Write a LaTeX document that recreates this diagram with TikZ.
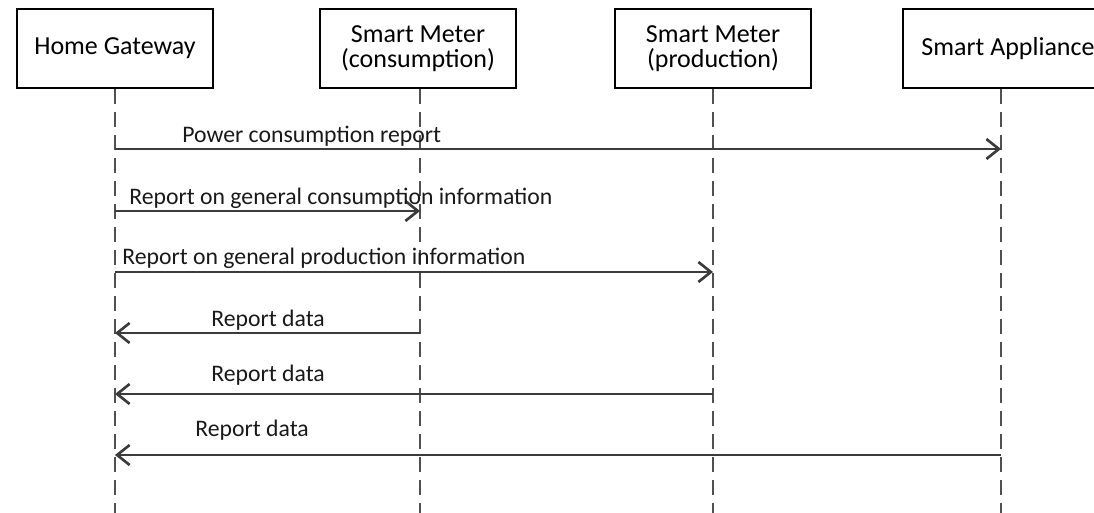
\documentclass[tikz,border=0pt]{standalone}
\usepackage{fontspec}
\setmainfont{Carlito}
\usetikzlibrary{arrows.meta,positioning,calc,shadows}
\definecolor{msggray}{RGB}{60,60,60}
\definecolor{lifegray}{RGB}{80,80,80}

\begin{document}
\begin{tikzpicture}[x=0.02cm, y=-0.02cm,
    actor/.style={draw, fill=white, line width=1.5pt, minimum width=3.92cm, minimum height=1.58cm, align=center, inner sep=0pt,
        font=\fontsize{14.8}{14}\selectfont, drop shadow={shadow xshift=0.6pt, shadow yshift=-0.6pt, opacity=0.3}},
    life/.style={draw=lifegray, line width=1.1pt, dash pattern=on 0.3cm off 0.16cm},
    msg/.style={draw=msggray, line width=1.5pt, -{Straight Barb[length=2.5mm, width=4mm]}},
    lbl/.style={anchor=base west, inner sep=0pt, text=black!90, font=\fontsize{13.5}{16}\selectfont}
]
\useasboundingbox (0,0) rectangle (1094,513);

% actors
\node[actor] (gw) at (115,48.5) {Home Gateway};
\node[actor] (smc) at (418,48.5) {Smart Meter\\(consumption)};
\node[actor] (smp) at (713,48.5) {Smart Meter\\(production)};
\node[actor, minimum width=4.2cm] (app) at (1008,48.5) {Smart Appliance};

% lifelines
\coordinate (gwend) at (gw |- 0,513);
\coordinate (smcend) at (420,513);
\coordinate (smpend) at (smp |- 0,513);
\coordinate (append) at (1001,513);
\draw[life] (gw.south) -- (gwend);
\draw[life] (smc.south -| smcend) -- (smcend);
\draw[life] (smp.south) -- (smpend);
\draw[life] (app.south -| append) -- (append);

% message points on the lifelines
\foreach \n/\y in {1/149, 2/211, 3/272, 4/333, 5/394, 6/455} {
    \coordinate (gw\n) at (gw |- 0,\y);
    \coordinate (smc\n) at (smcend |- 0,\y);
    \coordinate (smp\n) at (smp |- 0,\y);
    \coordinate (app\n) at (append |- 0,\y);
}

% messages
\draw[msg] (gw1) -- (app1);
\draw[msg] (gw2) -- (smc2);
\draw[msg] (gw3) -- (smp3);
\draw[msg] (smc4) -- (gw4);
\draw[msg] (smp5) -- (gw5);
\draw[msg] (app6) -- (gw6);

% labels
\node[lbl] (l1) at (182,143) {Power consumption report};
\node[lbl] (l2) at (129,204) {Report on general consumption information};
\node[lbl] (l3) at (122,264) {Report on general production information};
\node[lbl] (l4) at (211,326) {Report data};
\node[lbl] (l5) at (211,381) {Report data};
\node[lbl] (l6) at (195,436) {Report data};
\end{tikzpicture}
\end{document}
